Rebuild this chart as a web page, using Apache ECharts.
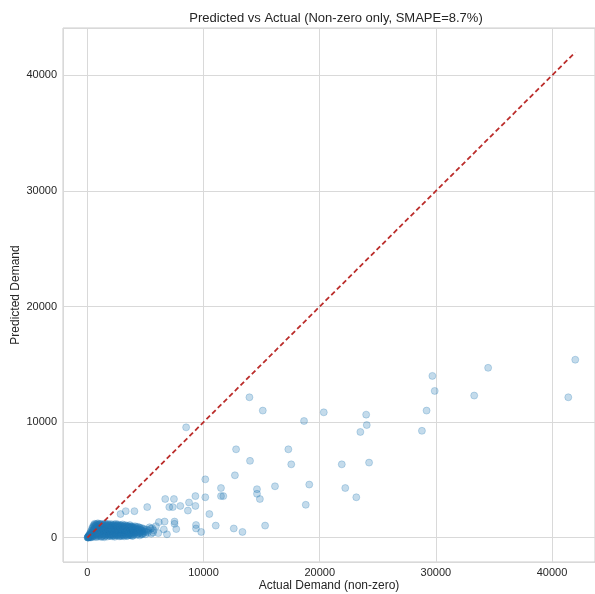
<!DOCTYPE html>
<html>
<head>
<meta charset="utf-8">
<script src="https://cdn.jsdelivr.net/npm/echarts@6/dist/echarts.min.js"></script>
<style>html,body{margin:0;padding:0;background:#fff}#c{width:595px;height:594px}</style>
</head>
<body>
<div id="c"></div>
<script>
const titleText = 'Predicted vs Actual (Non-zero only, SMAPE=8.7%)';
const xAxisName = 'Actual Demand (non-zero)';
const yAxisName = 'Predicted Demand';

// scattered points [actual, predicted]
const sparsePoints = [
  [42000,15400],[41400,12150],[34500,14700],[33300,12300],[29700,14000],[29900,12700],
  [29200,11000],[28800,9250],[24000,10650],[24050,9750],[23500,9150],[24250,6500],
  [20350,10850],[18650,10100],[21900,6350],[22200,4300],[23150,3500],[19100,4600],
  [18800,2850],[17300,7650],[17550,6350],[16150,4450],[15300,1050],[13950,12150],
  [15100,11000],[12800,7650],[14000,6650],[12700,5400],[14600,4200],[14600,3800],
  [14850,3350],[13350,500],[12600,800],[11500,4300],[11500,3600],[11700,3600],
  [11050,1050],[10500,2050],[10150,5050],[10150,3500],[9800,500],[9300,3600],
  [9300,2750],[9350,1100],[9350,800],[8500,9550],[8750,3050],[8650,2350],
  [8000,2750],[7450,3350],[6700,3350],[7050,2650],[7350,2650],[5150,2650],
  [4050,2300],[3300,2300],[2850,2050],[7500,1200],[7500,1400],[7650,750],
  [6850,300],[6650,1400],[6580,720],[6150,1350],[5580,830],[4750,300]
];

// dense low-demand cluster [actual, predicted]
const clusterPoints = [
  [15,10],[40,60],[60,20],[90,120],[110,40],[130,200],[150,80],[180,300],[200,150],[220,30],
  [250,420],[270,260],[300,90],[320,600],[350,380],[380,180],[400,800],[420,500],[450,60],[470,950],
  [500,300],[520,700],[550,1100],[580,150],[600,450],[620,1200],[650,850],[680,250],[700,1000],[720,600],
  [750,50],[780,1150],[800,380],[830,750],[850,950],[880,200],[900,1250],[930,550],[950,100],[980,880],
  [1000,1100],[1020,420],[1050,650],[1080,1200],[1100,250],[1130,900],[1150,80],[1180,700],[1200,1050],[1230,350],
  [1250,1180],[1280,500],[1300,150],[1330,980],[1350,780],[1380,300],[1400,1120],[1430,600],[1450,40],[1480,850],
  [1500,1230],[1530,450],[1550,700],[1580,200],[1600,1000],[1630,550],[1650,1150],[1680,320],[1700,880],[1730,100],
  [1750,650],[1780,1200],[1800,420],[1830,950],[1850,250],[1880,750],[1900,1100],[1930,500],[1950,150],[1980,1020],
  [2000,680],[2030,300],[2050,1180],[2080,580],[2100,850],[2130,120],[2150,1050],[2180,400],[2200,720],[2230,950],
  [2250,220],[2280,1150],[2300,520],[2330,800],[2350,80],[2380,1000],[2400,350],[2430,650],[2450,1200],[2480,450],
  [2500,900],[2530,180],[2550,1080],[2580,600],[2600,300],[2630,820],[2650,1150],[2680,450],[2700,700],[2730,120],
  [2750,980],[2780,550],[2800,1100],[2830,250],[2850,800],[2880,400],[2900,1050],[2930,620],[2950,150],[2980,900],
  [3000,480],[3030,1150],[3050,300],[3080,750],[3100,1000],[3130,200],[3150,600],[3180,880],[3200,400],[3230,1100],
  [3250,700],[3280,250],[3300,950],[3330,520],[3350,800],[3380,150],[3400,1050],[3430,600],[3450,350],[3480,900],
  [3500,700],[3530,220],[3550,1000],[3580,480],[3600,800],[3630,300],[3650,1100],[3680,620],[3700,400],[3730,900],
  [3750,200],[3780,750],[3800,1000],[3830,500],[3850,300],[3880,850],[3900,650],[3930,180],[3950,950],[3980,450],
  [4000,750],[4050,300],[4100,1000],[4150,550],[4200,800],[4250,250],[4300,650],[4350,950],[4400,400],[4450,700],
  [4500,200],[4550,850],[4600,500],[4650,650],[4700,350],[4800,800],[4900,550],[5000,300],[5100,700],[5200,450],
  [5350,900],[5500,350],[5700,650],[5900,1000],[6100,400]
];

// more points inside the dense cluster [actual, predicted]
const clusterPoints2 = [
  [25,30],[70,90],[100,10],[140,150],[170,60],[210,230],[240,110],[280,340],[310,20],[340,500],
  [370,270],[410,130],[440,700],[480,420],[510,890],[540,240],[570,620],[610,1050],[640,350],[670,780],
  [710,130],[740,1180],[770,480],[810,900],[840,290],[870,1080],[910,660],[940,400],[970,1180],[1010,210],
  [1040,820],[1070,520],[1110,1010],[1140,330],[1170,1150],[1210,610],[1240,90],[1270,880],[1310,420],[1340,1100],
  [1370,690],[1410,230],[1440,980],[1470,540],[1510,150],[1540,1100],[1570,800],[1610,360],[1640,930],[1670,600],
  [1710,1100],[1740,280],[1770,780],[1810,1060],[1840,520],[1870,180],[1910,900],[1940,640],[1970,330],[2010,1100],
  [2040,820],[2070,220],[2110,1000],[2140,560],[2170,760],[2210,280],[2240,1080],[2270,640],[2310,180],[2340,940],
  [2370,420],[2410,1100],[2440,780],[2470,260],[2510,620],[2540,990],[2570,380],[2610,1060],[2640,690],[2670,200],
  [2710,880],[2740,440],[2770,1000],[2810,680],[2840,140],[2870,920],[2910,350],[2940,780],[2970,1060],[3010,240],
  [3040,640],[3070,920],[3110,450],[3140,780],[3170,120],[3210,680],[3240,980],[3270,450],[3310,720],[3340,300],
  [3370,1000],[3410,560],[3440,820],[3470,170],[3510,920],[3540,620],[3570,360],[3610,960],[3640,520],[3670,820],
  [3710,250],[3740,650],[3770,940],[3810,420],[3840,700],[3870,160],[3910,880],[3940,560],[3970,780],[4020,380],
  [4080,860],[4130,420],[4180,680],[4230,920],[4280,480],[4330,300],[4380,760],[4430,560],[4480,880],[4530,400],
  [4580,680],[4630,300],[4680,820],[4750,560],[4850,420],[4950,720],[5050,520],[5250,640],[5450,780],[5650,450]
];

// y = x reference line
const refLineX = [0, 42000];
const refLineY = [0, 42000];

const xMin = -2100, xMax = 43700;
const yMin = -2100, yMax = 44100;
const tickStep = 10000;

const chart = echarts.init(document.getElementById('c'), null, {renderer: 'canvas'});
const fontFam = '"Liberation Sans", Arial, sans-serif';
const pointStyle = {
  color: 'rgba(31,119,180,0.33)',
  borderColor: 'rgba(31,119,180,0.45)',
  borderWidth: 0.7
};
const plain = v => String(Math.round(v));
chart.setOption({
  animation: false,
  backgroundColor: '#ffffff',
  title: {
    text: titleText,
    left: 331, top: 7, textAlign: 'center',
    textStyle: {fontFamily: fontFam, fontSize: 13, fontWeight: 'normal', color: '#262626'}
  },
  grid: {left: 63, right: 0, top: 28, bottom: 32, show: true, borderColor: '#cccccc', borderWidth: 1,
         containLabel: false, outerBoundsMode: 'none'},
  xAxis: {
    type: 'value', min: xMin, max: xMax, minInterval: tickStep, maxInterval: tickStep,
    name: xAxisName, nameLocation: 'middle', nameGap: 18, nameMoveOverlap: false,
    nameTextStyle: {fontFamily: fontFam, fontSize: 12, color: '#262626'},
    axisLine: {show: false}, axisTick: {show: false},
    axisLabel: {fontFamily: fontFam, fontSize: 11, color: '#262626', margin: 5, showMinLabel: false, showMaxLabel: false, formatter: plain},
    splitLine: {show: true, lineStyle: {color: '#d9d9d9', width: 1}}
  },
  yAxis: {
    type: 'value', min: yMin, max: yMax, minInterval: tickStep, maxInterval: tickStep,
    name: yAxisName, nameLocation: 'middle', nameGap: 41, nameMoveOverlap: false,
    nameTextStyle: {fontFamily: fontFam, fontSize: 12, color: '#262626'},
    axisLine: {show: false}, axisTick: {show: false},
    axisLabel: {fontFamily: fontFam, fontSize: 11, color: '#262626', margin: 6, showMinLabel: false, showMaxLabel: false, formatter: plain},
    splitLine: {show: true, lineStyle: {color: '#d9d9d9', width: 1}}
  },
  series: [
    {type: 'scatter', data: clusterPoints, symbolSize: 7, itemStyle: pointStyle, silent: true},
    {type: 'scatter', data: clusterPoints2, symbolSize: 7, itemStyle: pointStyle, silent: true},
    {type: 'scatter', data: sparsePoints, symbolSize: 7, itemStyle: pointStyle, silent: true},
    {type: 'line', data: refLineX.map((v, i) => [v, refLineY[i]]), showSymbol: false, symbol: 'none',
     lineStyle: {color: '#bb2d2b', width: 1.8, type: [5, 3]}, z: 5, silent: true}
  ]
});
</script>
</body>
</html>
